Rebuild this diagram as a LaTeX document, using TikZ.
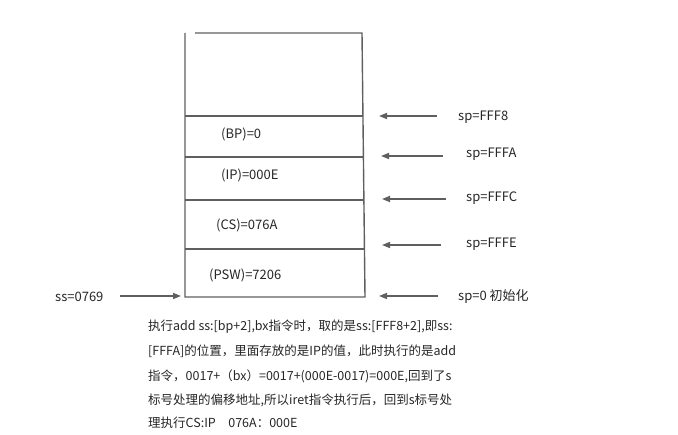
\documentclass[tikz,border=0pt]{standalone}
\usepackage{fontspec}
\setmainfont{Noto Sans CJK SC}
\usetikzlibrary{arrows.meta}
\definecolor{ln}{HTML}{5F5F5F}
\tikzset{
  wall/.style={draw=ln, line width=1.4pt},
  ptr/.style={draw=ln, line width=1.6pt, -{Triangle[length=8pt,width=6pt]}},
  lbl/.style={font=\fontsize{13}{15}\selectfont, inner sep=0pt, anchor=west, text=black!85},
  para/.style={font=\fontsize{12.5}{14}\selectfont, inner sep=0pt, anchor=base west, text=black!85}
}
\begin{document}
\begin{tikzpicture}[x=1pt,y=-1pt]
\useasboundingbox (0,0) rectangle (678,435);
% stack frame
\coordinate (tl) at (185,33);
\coordinate (bl) at (185,297);
\coordinate (tt) at (195,33);
\coordinate (tr) at (362,33);
\coordinate (br) at (365,297);
\draw[wall] (tl) -- (bl) -- (br) -- (tr) -- (tt);
\coordinate (l1) at (185,116); \coordinate (r1) at (362.5,116);
\coordinate (l2) at (185,157); \coordinate (r2) at (363,157);
\coordinate (l3) at (185,200); \coordinate (r3) at (363.5,200);
\coordinate (l4) at (185,249); \coordinate (r4) at (364.3,249);
\draw[wall] (l1) -- (r1);
\draw[wall] (l2) -- (r2);
\draw[wall] (l3) -- (r3);
\draw[wall] (l4) -- (r4);
% contents
\node[lbl] (bp) at (221,134) {(BP)=0};
\node[lbl] (ip) at (221,175) {(IP)=000E};
\node[lbl] (cs) at (216,225) {(CS)=076A};
\node[lbl] (psw) at (209,275) {(PSW)=7206};
% sp labels
\node[lbl] (s1) at (458,117) {sp=FFF8};
\node[lbl] (s2) at (466,154) {sp=FFFA};
\node[lbl] (s3) at (466,198) {sp=FFFC};
\node[lbl] (s4) at (466,244) {sp=FFFE};
\node[lbl] (s5) at (458,297) {sp=0 初始化};
\coordinate (a1s) at (437,116); \coordinate (a1e) at (379,116);
\coordinate (a2s) at (443,156); \coordinate (a2e) at (381,156);
\coordinate (a3s) at (446,199); \coordinate (a3e) at (382,199);
\coordinate (a4s) at (441,245); \coordinate (a4e) at (382,245);
\coordinate (a5s) at (438,296); \coordinate (a5e) at (379,296);
\draw[ptr] (a1s) -- (a1e);
\draw[ptr] (a2s) -- (a2e);
\draw[ptr] (a3s) -- (a3e);
\draw[ptr] (a4s) -- (a4e);
\draw[ptr] (a5s) -- (a5e);
% ss
\node[lbl] (ss) at (55,297) {ss=0769};
\coordinate (ssa) at (120,296);
\coordinate (sse) at (181,296);
\draw[ptr] (ssa) -- (sse);
% explanation
\node[para] (t1) at (148,331) {执行add ss:[bp+2],bx指令时，取的是ss:[FFF8+2],即ss:};
\node[para] (t2) at (148,356) {[FFFA]的位置，里面存放的是IP的值，此时执行的是add};
\node[para] (t3) at (148,381) {指令，0017+（bx）=0017+(000E-0017)=000E,回到了s};
\node[para] (t4) at (148,405) {标号处理的偏移地址,所以iret指令执行后，回到s标号处};
\node[para] (t5) at (148,428) {理执行CS:IP\quad 076A：000E};
\end{tikzpicture}
\end{document}
